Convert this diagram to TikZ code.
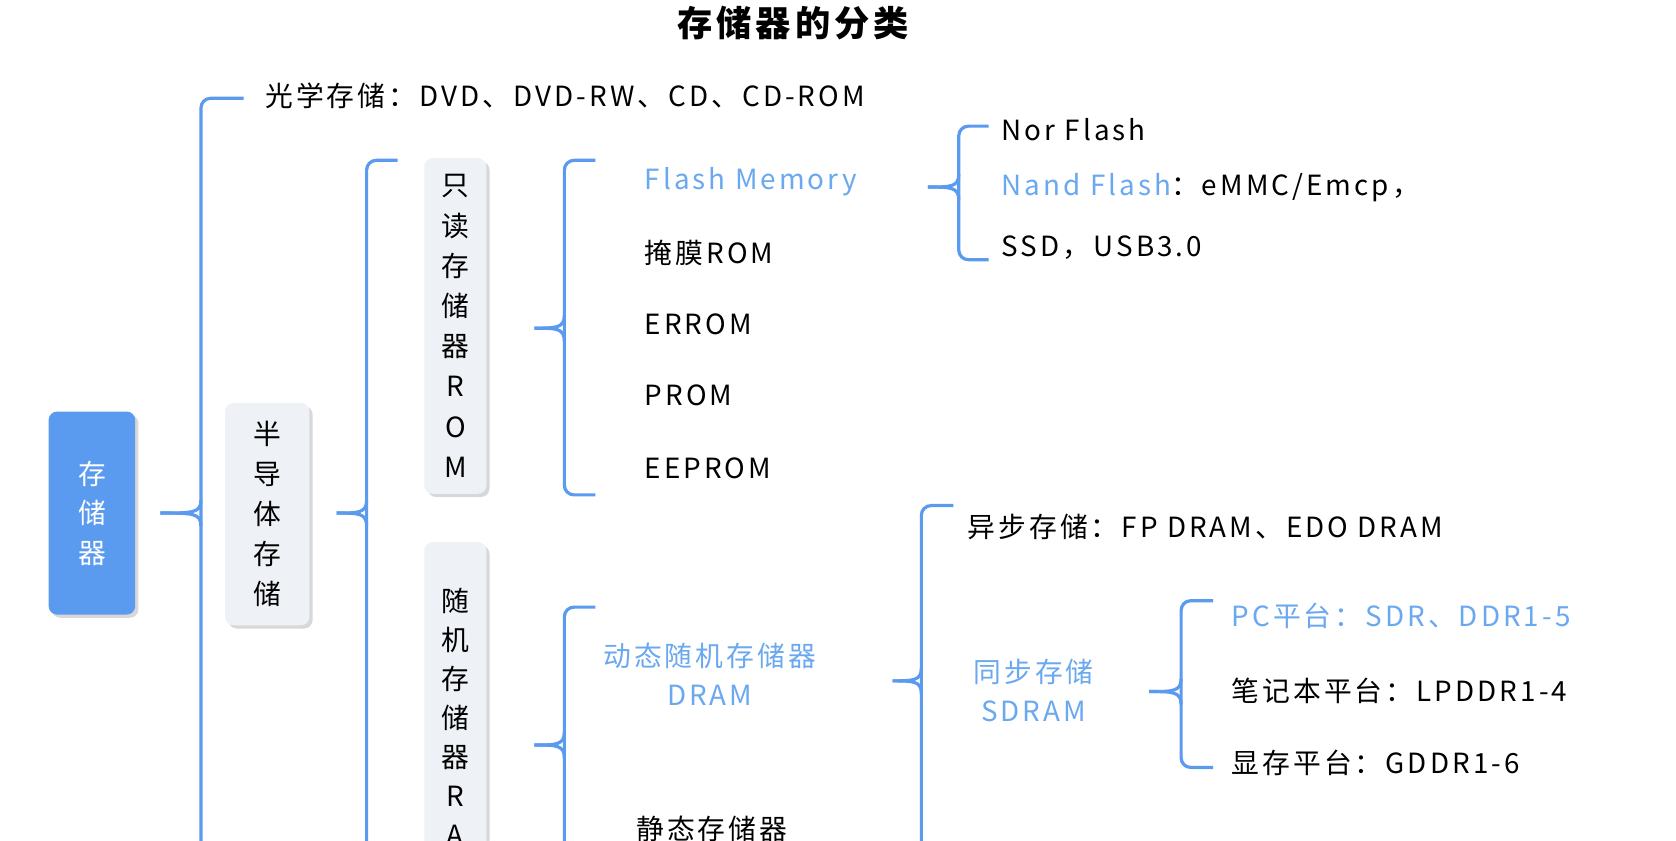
\documentclass[tikz,border=0pt]{standalone}
\usepackage{fontspec}
\setmainfont{Noto Sans CJK SC}[LetterSpace=11]
\usetikzlibrary{shadows}
\definecolor{br}{HTML}{5B9BEF}
\definecolor{lb}{HTML}{6AA8F0}
\definecolor{bx}{HTML}{EEF2F6}
\newcommand{\mybrace}[6]{% tip, xv, xr, top, mid, bot
  \draw[br,line width=3,rounded corners=9] (#3,#4)--(#2,#4)--(#2,#6)--(#3,#6);
  \draw[br,line width=3] (#1,#5) .. controls (#2-8,#5) and (#2,#5) .. (#2,#5-12);
  \draw[br,line width=3] (#1,#5) .. controls (#2-8,#5) and (#2,#5) .. (#2,#5+12);}
\begin{document}
\begin{tikzpicture}[x=1pt,y=-1pt,
  t/.style={font=\fontsize{26}{30}\selectfont,anchor=west,inner sep=0},
  bl/.style={t,text=lb},
  vbox/.style={rounded corners=8,fill=bx,drop shadow={opacity=0.3,shadow xshift=3pt,shadow yshift=-3pt}}]
\clip (0,0) rectangle (1568,786);
\useasboundingbox (0,0) rectangle (1568,786);
\fill[white] (0,0) rectangle (1568,786);
\node[font=\fontsize{33}{38}\selectfont\bfseries] (title) at (742,22) {存储器的分类};
% root
\node[vbox,fill=br,minimum width=81,minimum height=190,text=white,font=\fontsize{26}{37}\selectfont,align=center] (root) at (86,480) {存\\储\\器};
\mybrace{150}{188}{228}{92}{480}{900}
\node[t] (opt) at (248,90) {光学存储：DVD、DVD-RW、CD、CD-ROM};
\node[vbox,minimum width=79,minimum height=208,font=\fontsize{26}{37.5}\selectfont,align=center] (semi) at (250,481) {半\\导\\体\\存\\储};
\mybrace{315}{343}{372}{150}{480}{900}
\node[vbox,minimum width=58,minimum height=314,font=\fontsize{26}{37.6}\selectfont,align=center] (rom) at (426,305) {只\\读\\存\\储\\器\\R\\O\\M};
\mybrace{500}{528}{557}{150}{307}{463}
\node[bl] (fm) at (603,170) {Flash Memory};
\node[t] (mask) at (603,237) {掩膜ROM};
\node[t] (errom) at (603,303) {ERROM};
\node[t] (prom) at (603,370) {PROM};
\node[t] (eeprom) at (603,438) {EEPROM};
\mybrace{868}{897}{925}{118}{175}{243}
\node[t] (nor) at (937,121) {Nor Flash};
\node[t] (nand) at (937,176) {\textcolor{lb}{Nand Flash}：eMMC/Emcp，};
\node[t] (ssd) at (937,232) {SSD，USB3.0};
\node[vbox,minimum width=58,minimum height=400,font=\fontsize{26}{36.5}\selectfont,align=center,anchor=north] (ram) at (426,507) {随\\机\\存\\储\\器\\R\\A\\M\\\ };
\mybrace{500}{528}{557}{568}{697}{900}
\node[font=\fontsize{26}{37}\selectfont,text=lb,align=center] (dram) at (664,631) {动态随机存储器\\DRAM};
\node[font=\fontsize{26}{30}\selectfont,inner sep=0] (sram) at (666,775) {静态存储器};
\mybrace{835}{862}{892}{473}{637}{900}
\node[t] (async) at (905,493) {异步存储：FP DRAM、EDO DRAM};
\node[font=\fontsize{26}{37}\selectfont,text=lb,align=center] (sync) at (967,646) {同步存储\\SDRAM};
\node[t] (psram) at (905,800) {伪静态随机存储器PSRAM};
\mybrace{1075}{1105}{1135}{562}{647}{718}
\node[bl] (pc) at (1152,576) {PC平台：SDR、DDR1-5};
\node[t] (lp) at (1152,646) {笔记本平台：LPDDR1-4};
\node[t] (gd) at (1152,714) {显存平台：GDDR1-6};
\end{tikzpicture}
\end{document}
